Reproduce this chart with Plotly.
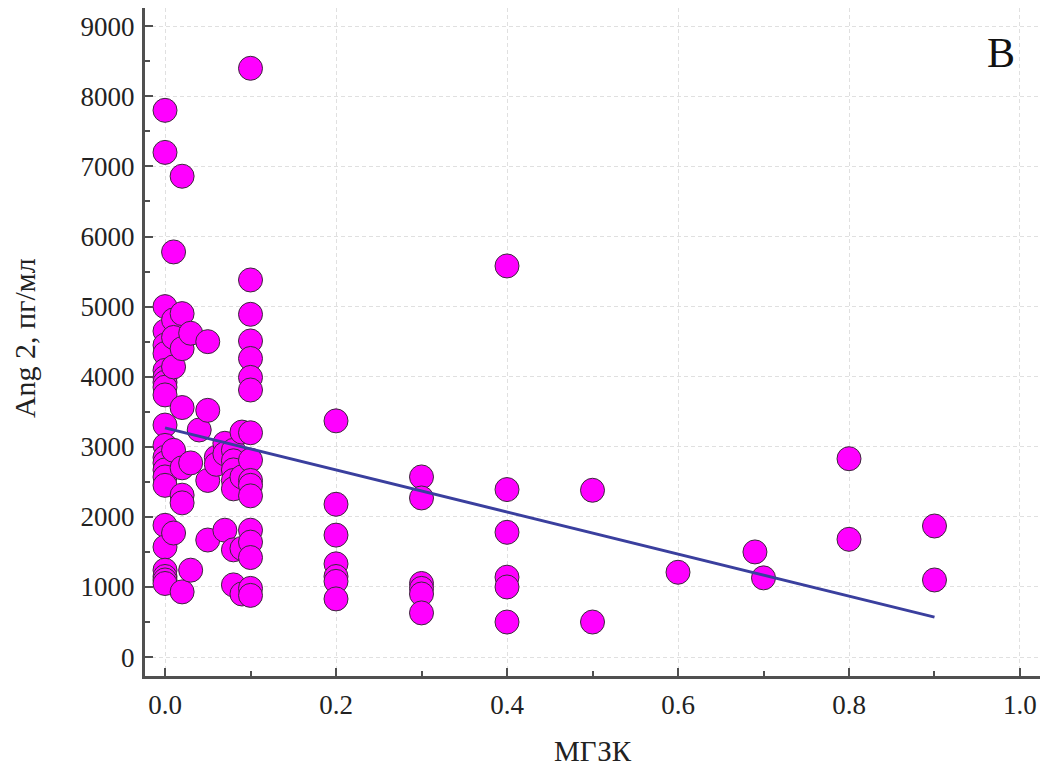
import plotly.graph_objects as go

# МГЗК values (x) and Ang 2, пг/мл values (y)
x_values = (
    [0.0] * 24 + [0.01] * 6 + [0.02] * 8 + [0.03] * 3 + [0.04] * 1 + [0.05] * 4
    + [0.06] * 2 + [0.07] * 3 + [0.08] * 7 + [0.09] * 4 + [0.1] * 17
    + [0.2] * 7 + [0.3] * 6 + [0.4] * 6 + [0.5] * 2 + [0.6] + [0.69] + [0.7]
    + [0.8] * 2 + [0.9] * 2
)
y_values = [
    # x = 0.0
    7800, 7200, 5000, 4650, 4450, 4330, 4090, 3990, 3920, 3850, 3740, 3310,
    3020, 2850, 2770, 2670, 2570, 2450, 1880, 1570, 1240, 1150, 1100, 1050,
    # 0.01
    5780, 4810, 4560, 4140, 2950, 1770,
    # 0.02
    6860, 4900, 4400, 3560, 2700, 2310, 2200, 930,
    # 0.03
    4620, 2770, 1240,
    # 0.04
    3240,
    # 0.05
    4500, 3520, 2520, 1670,
    # 0.06
    2850, 2750,
    # 0.07
    3050, 2900, 1810,
    # 0.08
    2950, 2800, 2670, 2520, 2400, 1530, 1030,
    # 0.09
    3210, 2570, 1550, 900,
    # 0.1
    8400, 5380, 4890, 4510, 4260, 3990, 3810, 3200, 2810, 2520, 2450, 2300,
    1810, 1640, 1420, 980, 880,
    # 0.2
    3370, 2180, 1740, 1330, 1150, 1080, 830,
    # 0.3
    2570, 2270, 1050, 980, 900, 630,
    # 0.4
    5580, 2390, 1780, 1140, 1000, 500,
    # 0.5
    2380, 500,
    # 0.6
    1210,
    # 0.69
    1500,
    # 0.7
    1130,
    # 0.8
    2830, 1680,
    # 0.9
    1870, 1100,
]

# regression line
fit_x = [0.0, 0.9]
fit_y = [3270, 570]

x_ticks = [0.0, 0.2, 0.4, 0.6, 0.8, 1.0]
y_ticks = [0, 1000, 2000, 3000, 4000, 5000, 6000, 7000, 8000, 9000]

FONT = "Liberation Serif, Times New Roman, serif"
AX = "#505050"
TXT = "#222222"

fig = go.Figure()
fig.add_trace(go.Scatter(
    x=x_values, y=y_values, mode="markers",
    marker=dict(size=24, color="#FF00FF", line=dict(color="#3a2a3a", width=1)),
    showlegend=False, hoverinfo="x+y",
))
fig.add_trace(go.Scatter(
    x=fit_x, y=fit_y, mode="lines",
    line=dict(color="#3a3f9e", width=3),
    showlegend=False,
))

fig.update_layout(
    width=1054, height=769,
    margin=dict(l=145, r=14, t=8, b=93),
    paper_bgcolor="white", plot_bgcolor="white",
    font=dict(family=FONT, size=27, color=TXT),
    xaxis=dict(
        range=[-0.0234, 1.0234], tickvals=x_ticks, ticktext=[f"{v:.1f}" for v in x_ticks],
        showline=True, linecolor=AX, linewidth=3, zeroline=False,
        ticks="inside", ticklen=8, tickwidth=2, tickcolor=AX,
        showgrid=True, gridcolor="#e0e0e0", griddash="4px,3px", gridwidth=1,
        minor=dict(ticks="inside", ticklen=5, tickwidth=2, tickcolor=AX,
                   tickvals=[0.1, 0.3, 0.5, 0.7, 0.9], showgrid=False),
        tickfont=dict(family=FONT, size=27, color=TXT),
        ticklabelstandoff=3,
    ),
    yaxis=dict(
        range=[-270, 9260], tickvals=y_ticks, ticktext=[str(v) for v in y_ticks],
        showline=True, linecolor=AX, linewidth=3, zeroline=False,
        ticks="inside", ticklen=8, tickwidth=2, tickcolor=AX,
        showgrid=True, gridcolor="#e0e0e0", griddash="4px,3px", gridwidth=1,
        minor=dict(ticks="inside", ticklen=5, tickwidth=2, tickcolor=AX,
                   tickvals=[500 + 1000 * i for i in range(9)], showgrid=False),
        tickfont=dict(family=FONT, size=27, color=TXT),
        ticklabelstandoff=2,
    ),
    annotations=[
        dict(text="МГЗК", xref="paper", yref="paper", x=0.5, y=-0.112,
             xanchor="center", yanchor="middle", showarrow=False,
             font=dict(family=FONT, size=29, color=TXT)),
        dict(text="Ang 2, пг/мл", xref="paper", yref="paper", x=-0.134, y=0.506,
             xanchor="center", yanchor="middle", showarrow=False, textangle=-90,
             font=dict(family=FONT, size=30, color=TXT)),
        dict(text="В", xref="paper", yref="paper", x=0.956, y=0.933,
             xanchor="center", yanchor="middle", showarrow=False,
             font=dict(family=FONT, size=42, color="#111")),
    ],
)

fig.write_html("out.html")
